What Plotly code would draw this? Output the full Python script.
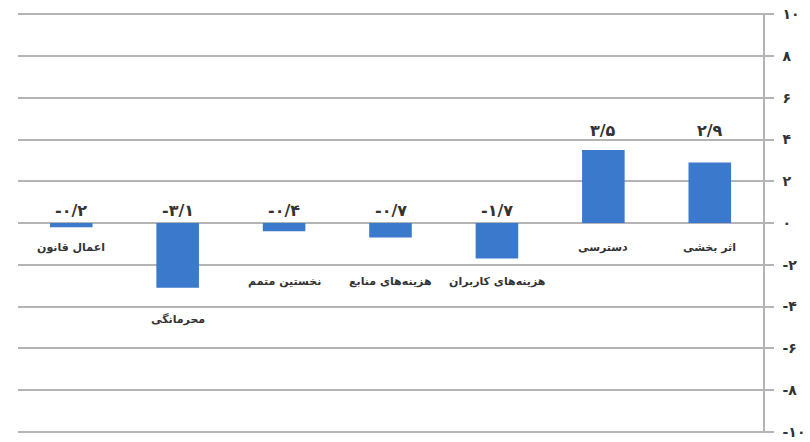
import plotly.graph_objects as go

# ---- data ----
categories = ["اعمال قانون", "محرمانگی", "نخستین متمم", "هزینه‌های منابع",
              "هزینه‌های کاربران", "دسترسی", "اثر بخشی"]
values = [-0.2, -3.1, -0.4, -0.7, -1.7, 3.5, 2.9]
y_ticks = [10, 8, 6, 4, 2, 0, -2, -4, -6, -8, -10]

# ---- layout helpers (label placement, in axis units) ----
cat_label_y = [-1.15, -4.6, -2.8, -2.8, -2.8, -1.15, -1.15]
pos_value_label_y = 4.45
neg_value_label_y = 0.6

FA = str.maketrans("0123456789", "۰۱۲۳۴۵۶۷۸۹")


def fa_num(v, dec=1):
    s = f"{abs(v):.{dec}f}".replace(".", "/").translate(FA)
    return ("-" + s) if v < 0 else s


fig = go.Figure()
fig.add_trace(go.Bar(
    x=categories, y=values,
    marker=dict(color="#3b79cc", line=dict(width=0)),
    width=0.4,
    hoverinfo="skip",
))

font_fa = "DejaVu Sans"
annotations = []
for c, v, ly in zip(categories, values, cat_label_y):
    annotations.append(dict(
        x=c, y=ly, xref="x", yref="y", text=f"<b>{c}</b>", showarrow=False,
        font=dict(family=font_fa, size=11, color="#333333"),
        xanchor="center", yanchor="middle",
    ))
    annotations.append(dict(
        x=c, y=pos_value_label_y if v >= 0 else neg_value_label_y,
        xref="x", yref="y", text=f"<b>{fa_num(v)}</b>", showarrow=False,
        font=dict(family=font_fa, size=16, color="#333333"),
        xanchor="center", yanchor="middle",
    ))

fig.update_layout(
    width=810, height=442,
    margin=dict(l=18, r=47, t=13, b=9, autoexpand=False),
    paper_bgcolor="white", plot_bgcolor="white",
    showlegend=False,
    annotations=annotations,
    xaxis=dict(showticklabels=False, showgrid=False, zeroline=False,
               showline=False, ticks="", automargin=False),
    yaxis=dict(
        side="right", range=[-10.06, 10.06], automargin=False,
        tickvals=y_ticks,
        ticktext=[f"<b>{fa_num(t, 0)}</b>" for t in y_ticks],
        tickfont=dict(family=font_fa, size=14, color="#333333"),
        ticklabeloverflow="allow",
        showgrid=True, gridcolor="#b4b4b4", gridwidth=1.5,
        zeroline=True, zerolinecolor="#b4b4b4", zerolinewidth=1.5,
        showline=True, linecolor="#b4b4b4", linewidth=1.5,
        ticks="outside", ticklen=9, tickcolor="#b4b4b4", tickwidth=1.5,
        ticklabelstandoff=6,
    ),
)

fig.write_html("out.html", config={"displayModeBar": False},
               post_script="document.body.style.margin='0';document.body.style.overflow='hidden';")
